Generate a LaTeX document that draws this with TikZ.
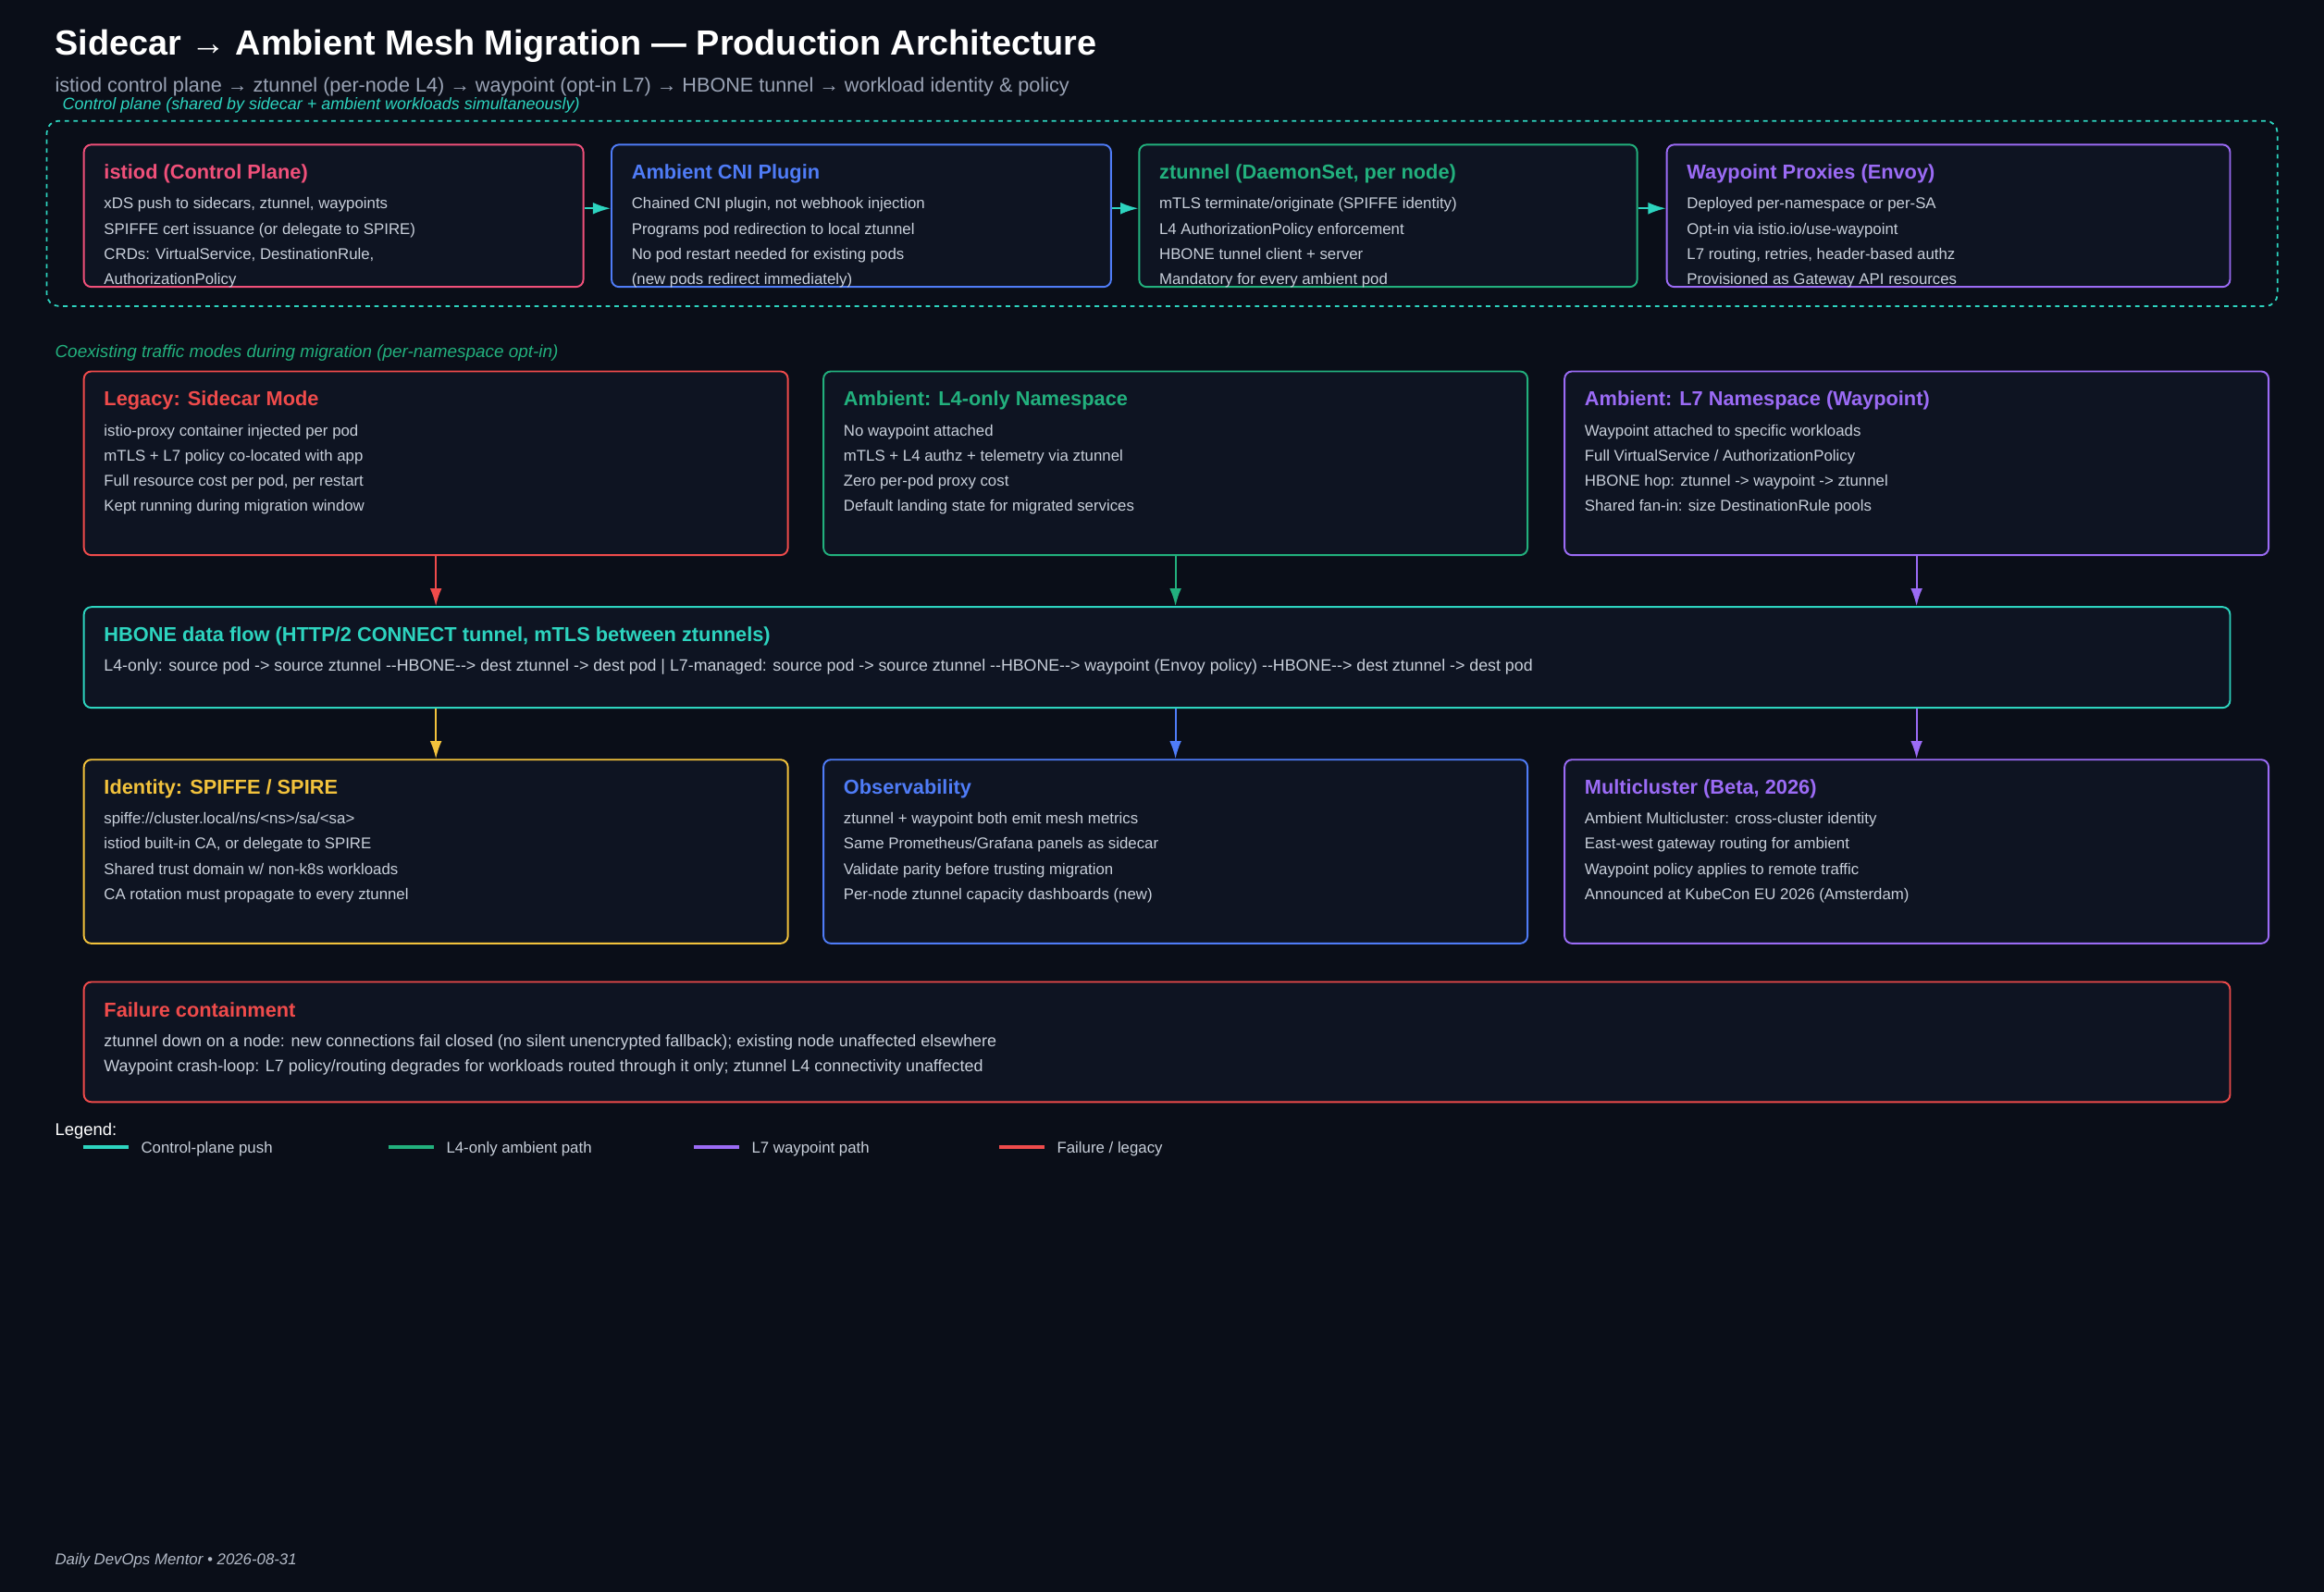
\documentclass[tikz,border=0pt]{standalone}
\usepackage{fontspec}
\setmainfont{Liberation Sans}
\usetikzlibrary{arrows.meta}
\definecolor{bg}{HTML}{0A0E18}
\definecolor{boxbg}{HTML}{0E1422}
\definecolor{body}{HTML}{C8CFDA}
\definecolor{sub}{HTML}{9AA3B5}
\definecolor{cteal}{HTML}{2DD4BF}
\definecolor{cpink}{HTML}{F0507A}
\definecolor{cblue}{HTML}{4F7CF7}
\definecolor{cgreen}{HTML}{22B07D}
\definecolor{cpurple}{HTML}{9B6BF5}
\definecolor{cred}{HTML}{EF4B4B}
\definecolor{cyellow}{HTML}{F2C23C}
\begin{document}
\begin{tikzpicture}[x=1pt,y=-1pt,
 box/.style={draw=#1,fill=boxbg,line width=1.2pt,rounded corners=5pt,anchor=north west,inner sep=0pt},
 ttl/.style={anchor=base west,inner sep=0pt,text=#1,font=\fontsize{13.6}{13.6}\selectfont\bfseries},
 txt/.style={anchor=base west,inner sep=0pt,text=body,font=\fontsize{10.5}{10.5}\selectfont},
 arr/.style={draw=#1,line width=1.2pt,-{Latex[length=12pt,width=8pt]}},
 lg/.style={draw=#1,line width=2pt}]
\fill[bg] (0,0) rectangle (1568,1074);
\useasboundingbox (0,0) rectangle (1568,1074);
\node[anchor=base west,inner sep=0pt,text=white,font=\fontsize{23.6}{23.6}\selectfont\bfseries] (title) at (37,37) {Sidecar → Ambient Mesh Migration — Production Architecture};
\node[anchor=base west,inner sep=0pt,text=sub,font=\fontsize{13.5}{13.5}\selectfont] (subt) at (37,62) {istiod control plane → ztunnel (per-node L4) → waypoint (opt-in L7) → HBONE tunnel → workload identity \& policy};
% control plane
\node[draw=cteal,dashed,line width=1.1pt,rounded corners=8pt,anchor=north west,minimum width=1505pt,minimum height=125pt] (cp) at (31,81) {};
\node[anchor=base west,inner sep=0pt,text=cteal,font=\fontsize{11.2}{11.2}\selectfont\itshape] (cpl) at (42,74) {Control plane (shared by sidecar + ambient workloads simultaneously)};
\newcommand{\cbox}[7]{%
 \node[box=#3,minimum width=#4pt,minimum height=96pt] (#1) at (#2,97) {};
 \node[ttl=#3] at (#2+14,121) {#5};
 \foreach \t [count=\i] in {#6} {\node[txt] at (#2+14,124+\i*17) {\t};}}
\cbox{c1}{56}{cpink}{337}{istiod (Control Plane)}{{xDS push to sidecars, ztunnel, waypoints},SPIFFE cert issuance (or delegate to SPIRE),{CRDs: VirtualService, DestinationRule,},AuthorizationPolicy}{}
\cbox{c2}{412}{cblue}{337}{Ambient CNI Plugin}{{Chained CNI plugin, not webhook injection},Programs pod redirection to local ztunnel,No pod restart needed for existing pods,(new pods redirect immediately)}{}
\cbox{c3}{768}{cgreen}{336}{ztunnel (DaemonSet, per node)}{mTLS terminate/originate (SPIFFE identity),L4 AuthorizationPolicy enforcement,HBONE tunnel client + server,Mandatory for every ambient pod}{}
\cbox{c4}{1124}{cpurple}{380}{Waypoint Proxies (Envoy)}{Deployed per-namespace or per-SA,Opt-in via istio.io/use-waypoint,{L7 routing, retries, header-based authz},Provisioned as Gateway API resources}{}
\foreach \a/\b in {c1/c2,c2/c3,c3/c4} \draw[arr=cteal] ([yshift=5pt]\a.east) -- ([yshift=5pt]\b.west);
% row 2
\node[anchor=base west,inner sep=0pt,text=cgreen,font=\fontsize{11.8}{11.8}\selectfont\itshape] (coex) at (37,241) {Coexisting traffic modes during migration (per-namespace opt-in)};
\newcommand{\rbox}[7]{%
 \node[box=#3,minimum width=475pt,minimum height=124pt] (#1) at (#2,#7) {};
 \node[ttl=#3] at (#2+14,#7+24) {#4};
 \foreach \t [count=\i] in {#5} {\node[txt] at (#2+14,#7+27+\i*17) {\t};}}
\rbox{l1}{56}{cred}{Legacy: Sidecar Mode}{istio-proxy container injected per pod,mTLS + L7 policy co-located with app,{Full resource cost per pod, per restart},Kept running during migration window}{}{250}
\rbox{l2}{555}{cgreen}{Ambient: L4-only Namespace}{No waypoint attached,mTLS + L4 authz + telemetry via ztunnel,Zero per-pod proxy cost,Default landing state for migrated services}{}{250}
\rbox{l3}{1055}{cpurple}{Ambient: L7 Namespace (Waypoint)}{Waypoint attached to specific workloads,Full VirtualService / AuthorizationPolicy,HBONE hop: ztunnel -> waypoint -> ztunnel,Shared fan-in: size DestinationRule pools}{}{250}
% hbone
\node[box=cteal,minimum width=1448pt,minimum height=68pt] (hb) at (56,409) {};
\node[ttl=cteal] at (70,433) {HBONE data flow (HTTP/2 CONNECT tunnel, mTLS between ztunnels)};
\node[txt,font=\fontsize{11.1}{11.1}\selectfont] at (70,453) {L4-only: source pod -> source ztunnel -{}-HBONE-{}-> dest ztunnel -> dest pod | L7-managed: source pod -> source ztunnel -{}-HBONE-{}-> waypoint (Envoy policy) -{}-HBONE-{}-> dest ztunnel -> dest pod};
\draw[arr=cred] (l1.south) -- (hb.north -| l1.south);
\draw[arr=cgreen] (l2.south) -- (hb.north -| l2.south);
\draw[arr=cpurple] (l3.south) -- (hb.north -| l3.south);
% row 3
\rbox{r1}{56}{cyellow}{Identity: SPIFFE / SPIRE}{spiffe://cluster.local/ns/<ns>/sa/<sa>,{istiod built-in CA, or delegate to SPIRE},Shared trust domain w/ non-k8s workloads,CA rotation must propagate to every ztunnel}{}{512}
\rbox{r2}{555}{cblue}{Observability}{ztunnel + waypoint both emit mesh metrics,Same Prometheus/Grafana panels as sidecar,Validate parity before trusting migration,Per-node ztunnel capacity dashboards (new)}{}{512}
\rbox{r3}{1055}{cpurple}{Multicluster (Beta, 2026)}{Ambient Multicluster: cross-cluster identity,East-west gateway routing for ambient,Waypoint policy applies to remote traffic,Announced at KubeCon EU 2026 (Amsterdam)}{}{512}
\draw[arr=cyellow] (hb.south -| r1.north) -- (r1.north);
\draw[arr=cblue] (hb.south -| r2.north) -- (r2.north);
\draw[arr=cpurple] (hb.south -| r3.north) -- (r3.north);
% failure
\node[box=cred,minimum width=1448pt,minimum height=81pt] (fc) at (56,662) {};
\node[ttl=cred] at (70,686) {Failure containment};
\node[txt,font=\fontsize{11.2}{11.2}\selectfont] at (70,706) {ztunnel down on a node: new connections fail closed (no silent unencrypted fallback); existing node unaffected elsewhere};
\node[txt,font=\fontsize{11.2}{11.2}\selectfont] at (70,723) {Waypoint crash-loop: L7 policy/routing degrades for workloads routed through it only; ztunnel L4 connectivity unaffected};
% legend
\node[anchor=base west,inner sep=0pt,text=white,font=\fontsize{11.5}{11.5}\selectfont] (leg) at (37,766) {Legend:};
\foreach \x/\c/\t [count=\i] in {56/cteal/{Control-plane push},262/cgreen/{L4-only ambient path},468/cpurple/{L7 waypoint path},674/cred/{Failure / legacy}} {
 \coordinate (la\i) at (\x,774); \coordinate (lb\i) at (\x+31,774);
 \draw[lg=\c] (la\i) -- (lb\i);
 \node[txt] at (\x+39,778) {\t};}
\node[anchor=base west,inner sep=0pt,text=sub!75,font=\fontsize{10.5}{10.5}\selectfont\itshape] (foot) at (37,1056) {Daily DevOps Mentor • 2026-08-31};
\end{tikzpicture}
\end{document}
